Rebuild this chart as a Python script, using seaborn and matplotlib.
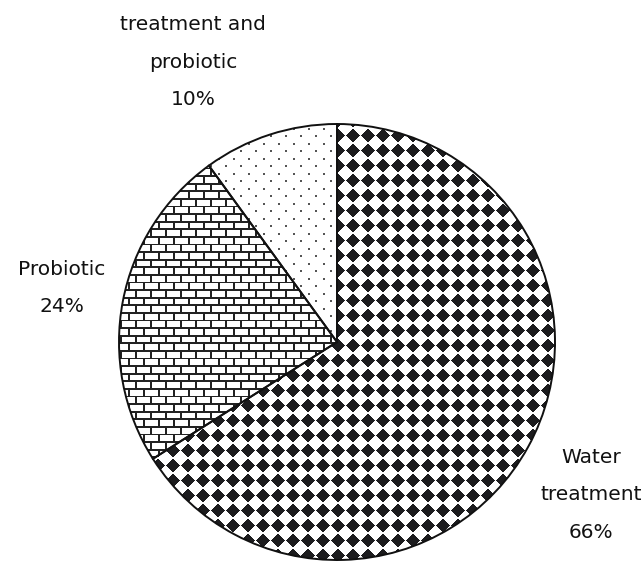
import numpy as np
import matplotlib
matplotlib.use("Agg")
import matplotlib.pyplot as plt
import seaborn as sns

# ---- data ----
categories = ["Water\ntreatment", "Probiotic", "treatment and\nprobiotic"]
percentages = [66, 24, 10]

sns.set_theme(style="white")
plt.rcParams['font.family'] = ['DejaVu Sans']

W, H = 644, 563
fig = plt.figure(figsize=(W / 100, H / 100), dpi=100)
ax = fig.add_axes([0, 0, 1, 1])

# pie geometry in pixel units
cx, cy, R = 337, H - 342, 218

wedges, _ = ax.pie(percentages, startangle=90, counterclock=False,
                   center=(cx, cy), radius=R,
                   wedgeprops=dict(facecolor="none", edgecolor="#111111",
                                   linewidth=1.4, zorder=3))
ax.set_xlim(0, W)
ax.set_ylim(0, H)
ax.set_aspect("equal")
ax.axis("off")

# ---- textures (pixel grids) ----
r, c = np.mgrid[0:H, 0:W].astype(float)

# rotated checkerboard (diamonds)
s = 15.0
u = (c + r) / s
v = (c - r) / s
chk = ((np.floor(u) + np.floor(v)) % 2 == 0)
fu, fv = u - np.floor(u), v - np.floor(v)
g = 0.05
chk &= (fu > g) & (fu < 1 - g) & (fv > g) & (fv < 1 - g)
tex_chk = np.ones((H, W, 3))
tex_chk[chk] = np.array([0x1c, 0x1c, 0x1e]) / 255

# bricks
rp, bp = 7.6, 15.0
row = np.floor(r / rp)
yin = r - row * rp
xin = (c + (row % 2) * bp / 2) % bp
mortar = (yin < 1.8) | (xin < 2.0)
tex_brk = np.ones((H, W, 3))
tex_brk[mortar] = np.array([0x22, 0x22, 0x22]) / 255

# sparse dots
dp_x, dp_y = 15.0, 7.5
drow = np.floor(r / dp_y)
dyin = r - drow * dp_y
dxin = (c + (drow % 2) * dp_x / 2) % dp_x
dots = (dyin < 1.6) & (dxin < 1.6)
tex_dot = np.ones((H, W, 3))
tex_dot[dots] = np.array([0x55, 0x55, 0x55]) / 255

for w, tex in zip(wedges, [tex_chk, tex_brk, tex_dot]):
    im = ax.imshow(tex, extent=(0, W, 0, H), origin="upper",
                   interpolation="nearest", zorder=2)
    im.set_clip_path(w)

# ---- labels ----
label_pos = [(591, H - 495), (62, H - 288), (193, H - 62)]
for lab, pct, (x, y) in zip(categories, percentages, label_pos):
    ax.text(x, y, f"{lab}\n{pct}%", ha="center", va="center",
            fontsize=14.5, color="#111111", linespacing=2.25,
            multialignment="center", zorder=4)

fig.savefig("out.png", dpi=100, facecolor="white")
